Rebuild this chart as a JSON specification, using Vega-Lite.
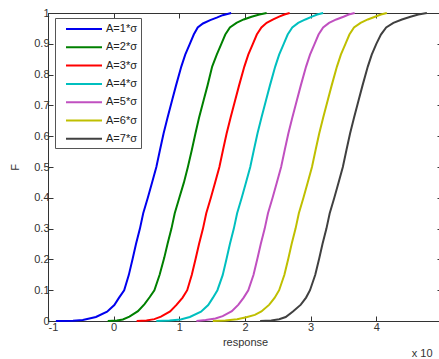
{
  "$schema": "https://vega.github.io/schema/vega-lite/v6.json",
  "width": 394,
  "height": 308,
  "autosize": "none",
  "padding": {"left": 48, "top": 13, "right": 0, "bottom": 38},
  "background": "white",
  "config": {
    "font": "Liberation Sans",
    "view": {"stroke": "#333333", "strokeWidth": 1},
    "axis": {
      "grid": false,
      "domainColor": "#333333",
      "tickColor": "#333333",
      "tickSize": -5,
      "labelFontSize": 11,
      "labelColor": "#333333",
      "labelFont": "Liberation Sans",
      "titleFont": "Liberation Sans",
      "titleFontSize": 11,
      "titleFontWeight": "normal",
      "titleColor": "#333333"
    }
  },
  "datasets": {
    "cdf": [
      {"s":"A=1*σ","x":-0.88,"F":0},{"s":"A=1*σ","x":-0.62,"F":0.001},{"s":"A=1*σ","x":-0.47,"F":0.003},{"s":"A=1*σ","x":-0.27,"F":0.013},{"s":"A=1*σ","x":-0.1,"F":0.03},{"s":"A=1*σ","x":0.01,"F":0.052},{"s":"A=1*σ","x":0.08,"F":0.075},{"s":"A=1*σ","x":0.16,"F":0.1},{"s":"A=1*σ","x":0.23,"F":0.149},{"s":"A=1*σ","x":0.29,"F":0.203},{"s":"A=1*σ","x":0.34,"F":0.25},{"s":"A=1*σ","x":0.4,"F":0.3},{"s":"A=1*σ","x":0.45,"F":0.35},{"s":"A=1*σ","x":0.52,"F":0.4},{"s":"A=1*σ","x":0.585,"F":0.45},{"s":"A=1*σ","x":0.65,"F":0.5},{"s":"A=1*σ","x":0.705,"F":0.555},{"s":"A=1*σ","x":0.76,"F":0.609},{"s":"A=1*σ","x":0.82,"F":0.66},{"s":"A=1*σ","x":0.89,"F":0.717},{"s":"A=1*σ","x":0.95,"F":0.765},{"s":"A=1*σ","x":1.03,"F":0.826},{"s":"A=1*σ","x":1.09,"F":0.865},{"s":"A=1*σ","x":1.16,"F":0.9},{"s":"A=1*σ","x":1.22,"F":0.93},{"s":"A=1*σ","x":1.28,"F":0.953},{"s":"A=1*σ","x":1.36,"F":0.966},{"s":"A=1*σ","x":1.47,"F":0.977},{"s":"A=1*σ","x":1.57,"F":0.985},{"s":"A=1*σ","x":1.66,"F":0.993},{"s":"A=1*σ","x":1.79,"F":1},
      {"s":"A=2*σ","x":-0.09,"F":0},{"s":"A=2*σ","x":0.05,"F":0.002},{"s":"A=2*σ","x":0.14,"F":0.005},{"s":"A=2*σ","x":0.24,"F":0.014},{"s":"A=2*σ","x":0.37,"F":0.032},{"s":"A=2*σ","x":0.47,"F":0.055},{"s":"A=2*σ","x":0.55,"F":0.078},{"s":"A=2*σ","x":0.62,"F":0.1},{"s":"A=2*σ","x":0.7,"F":0.15},{"s":"A=2*σ","x":0.77,"F":0.205},{"s":"A=2*σ","x":0.82,"F":0.25},{"s":"A=2*σ","x":0.88,"F":0.3},{"s":"A=2*σ","x":0.93,"F":0.35},{"s":"A=2*σ","x":1.0,"F":0.4},{"s":"A=2*σ","x":1.07,"F":0.45},{"s":"A=2*σ","x":1.13,"F":0.5},{"s":"A=2*σ","x":1.19,"F":0.555},{"s":"A=2*σ","x":1.245,"F":0.609},{"s":"A=2*σ","x":1.3,"F":0.66},{"s":"A=2*σ","x":1.37,"F":0.717},{"s":"A=2*σ","x":1.43,"F":0.765},{"s":"A=2*σ","x":1.5,"F":0.826},{"s":"A=2*σ","x":1.57,"F":0.865},{"s":"A=2*σ","x":1.64,"F":0.9},{"s":"A=2*σ","x":1.7,"F":0.93},{"s":"A=2*σ","x":1.77,"F":0.953},{"s":"A=2*σ","x":1.87,"F":0.968},{"s":"A=2*σ","x":1.98,"F":0.979},{"s":"A=2*σ","x":2.1,"F":0.988},{"s":"A=2*σ","x":2.22,"F":0.995},{"s":"A=2*σ","x":2.33,"F":1},
      {"s":"A=3*σ","x":0.35,"F":0},{"s":"A=3*σ","x":0.5,"F":0.002},{"s":"A=3*σ","x":0.62,"F":0.006},{"s":"A=3*σ","x":0.72,"F":0.014},{"s":"A=3*σ","x":0.86,"F":0.031},{"s":"A=3*σ","x":0.96,"F":0.053},{"s":"A=3*σ","x":1.05,"F":0.076},{"s":"A=3*σ","x":1.12,"F":0.1},{"s":"A=3*σ","x":1.19,"F":0.15},{"s":"A=3*σ","x":1.25,"F":0.204},{"s":"A=3*σ","x":1.3,"F":0.25},{"s":"A=3*σ","x":1.36,"F":0.3},{"s":"A=3*σ","x":1.41,"F":0.35},{"s":"A=3*σ","x":1.48,"F":0.4},{"s":"A=3*σ","x":1.545,"F":0.45},{"s":"A=3*σ","x":1.61,"F":0.5},{"s":"A=3*σ","x":1.665,"F":0.555},{"s":"A=3*σ","x":1.72,"F":0.609},{"s":"A=3*σ","x":1.78,"F":0.66},{"s":"A=3*σ","x":1.85,"F":0.717},{"s":"A=3*σ","x":1.91,"F":0.765},{"s":"A=3*σ","x":1.99,"F":0.826},{"s":"A=3*σ","x":2.05,"F":0.865},{"s":"A=3*σ","x":2.12,"F":0.9},{"s":"A=3*σ","x":2.18,"F":0.93},{"s":"A=3*σ","x":2.25,"F":0.953},{"s":"A=3*σ","x":2.33,"F":0.968},{"s":"A=3*σ","x":2.43,"F":0.979},{"s":"A=3*σ","x":2.52,"F":0.988},{"s":"A=3*σ","x":2.6,"F":0.995},{"s":"A=3*σ","x":2.68,"F":1},
      {"s":"A=4*σ","x":0.65,"F":0},{"s":"A=4*σ","x":0.85,"F":0.002},{"s":"A=4*σ","x":1.02,"F":0.005},{"s":"A=4*σ","x":1.16,"F":0.013},{"s":"A=4*σ","x":1.33,"F":0.03},{"s":"A=4*σ","x":1.44,"F":0.052},{"s":"A=4*σ","x":1.51,"F":0.075},{"s":"A=4*σ","x":1.58,"F":0.1},{"s":"A=4*σ","x":1.66,"F":0.149},{"s":"A=4*σ","x":1.72,"F":0.203},{"s":"A=4*σ","x":1.77,"F":0.25},{"s":"A=4*σ","x":1.83,"F":0.3},{"s":"A=4*σ","x":1.88,"F":0.35},{"s":"A=4*σ","x":1.95,"F":0.4},{"s":"A=4*σ","x":2.015,"F":0.45},{"s":"A=4*σ","x":2.08,"F":0.5},{"s":"A=4*σ","x":2.135,"F":0.555},{"s":"A=4*σ","x":2.19,"F":0.609},{"s":"A=4*σ","x":2.25,"F":0.66},{"s":"A=4*σ","x":2.32,"F":0.717},{"s":"A=4*σ","x":2.38,"F":0.765},{"s":"A=4*σ","x":2.46,"F":0.826},{"s":"A=4*σ","x":2.52,"F":0.865},{"s":"A=4*σ","x":2.59,"F":0.9},{"s":"A=4*σ","x":2.65,"F":0.93},{"s":"A=4*σ","x":2.72,"F":0.953},{"s":"A=4*σ","x":2.81,"F":0.968},{"s":"A=4*σ","x":2.92,"F":0.979},{"s":"A=4*σ","x":3.02,"F":0.988},{"s":"A=4*σ","x":3.1,"F":0.995},{"s":"A=4*σ","x":3.19,"F":1},
      {"s":"A=5*σ","x":1.26,"F":0},{"s":"A=5*σ","x":1.4,"F":0.003},{"s":"A=5*σ","x":1.55,"F":0.008},{"s":"A=5*σ","x":1.66,"F":0.016},{"s":"A=5*σ","x":1.8,"F":0.032},{"s":"A=5*σ","x":1.9,"F":0.053},{"s":"A=5*σ","x":1.98,"F":0.076},{"s":"A=5*σ","x":2.05,"F":0.1},{"s":"A=5*σ","x":2.13,"F":0.15},{"s":"A=5*σ","x":2.19,"F":0.204},{"s":"A=5*σ","x":2.24,"F":0.25},{"s":"A=5*σ","x":2.3,"F":0.3},{"s":"A=5*σ","x":2.35,"F":0.35},{"s":"A=5*σ","x":2.42,"F":0.4},{"s":"A=5*σ","x":2.485,"F":0.45},{"s":"A=5*σ","x":2.55,"F":0.5},{"s":"A=5*σ","x":2.605,"F":0.555},{"s":"A=5*σ","x":2.66,"F":0.609},{"s":"A=5*σ","x":2.72,"F":0.66},{"s":"A=5*σ","x":2.79,"F":0.717},{"s":"A=5*σ","x":2.85,"F":0.765},{"s":"A=5*σ","x":2.93,"F":0.826},{"s":"A=5*σ","x":2.99,"F":0.865},{"s":"A=5*σ","x":3.06,"F":0.9},{"s":"A=5*σ","x":3.12,"F":0.93},{"s":"A=5*σ","x":3.19,"F":0.953},{"s":"A=5*σ","x":3.28,"F":0.968},{"s":"A=5*σ","x":3.39,"F":0.979},{"s":"A=5*σ","x":3.5,"F":0.988},{"s":"A=5*σ","x":3.58,"F":0.995},{"s":"A=5*σ","x":3.67,"F":1},
      {"s":"A=6*σ","x":1.51,"F":0},{"s":"A=6*σ","x":1.7,"F":0.002},{"s":"A=6*σ","x":1.88,"F":0.006},{"s":"A=6*σ","x":2.02,"F":0.012},{"s":"A=6*σ","x":2.15,"F":0.02},{"s":"A=6*σ","x":2.25,"F":0.031},{"s":"A=6*σ","x":2.37,"F":0.053},{"s":"A=6*σ","x":2.45,"F":0.075},{"s":"A=6*σ","x":2.52,"F":0.1},{"s":"A=6*σ","x":2.6,"F":0.15},{"s":"A=6*σ","x":2.66,"F":0.203},{"s":"A=6*σ","x":2.71,"F":0.25},{"s":"A=6*σ","x":2.77,"F":0.3},{"s":"A=6*σ","x":2.82,"F":0.35},{"s":"A=6*σ","x":2.89,"F":0.4},{"s":"A=6*σ","x":2.955,"F":0.45},{"s":"A=6*σ","x":3.02,"F":0.5},{"s":"A=6*σ","x":3.075,"F":0.555},{"s":"A=6*σ","x":3.13,"F":0.609},{"s":"A=6*σ","x":3.19,"F":0.66},{"s":"A=6*σ","x":3.26,"F":0.717},{"s":"A=6*σ","x":3.32,"F":0.765},{"s":"A=6*σ","x":3.4,"F":0.826},{"s":"A=6*σ","x":3.46,"F":0.865},{"s":"A=6*σ","x":3.53,"F":0.9},{"s":"A=6*σ","x":3.59,"F":0.93},{"s":"A=6*σ","x":3.66,"F":0.953},{"s":"A=6*σ","x":3.76,"F":0.968},{"s":"A=6*σ","x":3.87,"F":0.979},{"s":"A=6*σ","x":3.98,"F":0.988},{"s":"A=6*σ","x":4.07,"F":0.995},{"s":"A=6*σ","x":4.16,"F":1},
      {"s":"A=7*σ","x":2.23,"F":0},{"s":"A=7*σ","x":2.4,"F":0.002},{"s":"A=7*σ","x":2.52,"F":0.006},{"s":"A=7*σ","x":2.62,"F":0.013},{"s":"A=7*σ","x":2.73,"F":0.031},{"s":"A=7*σ","x":2.85,"F":0.053},{"s":"A=7*σ","x":2.93,"F":0.076},{"s":"A=7*σ","x":2.99,"F":0.1},{"s":"A=7*σ","x":3.07,"F":0.15},{"s":"A=7*σ","x":3.13,"F":0.203},{"s":"A=7*σ","x":3.18,"F":0.25},{"s":"A=7*σ","x":3.24,"F":0.3},{"s":"A=7*σ","x":3.29,"F":0.35},{"s":"A=7*σ","x":3.36,"F":0.4},{"s":"A=7*σ","x":3.425,"F":0.45},{"s":"A=7*σ","x":3.49,"F":0.5},{"s":"A=7*σ","x":3.545,"F":0.555},{"s":"A=7*σ","x":3.6,"F":0.609},{"s":"A=7*σ","x":3.66,"F":0.66},{"s":"A=7*σ","x":3.73,"F":0.717},{"s":"A=7*σ","x":3.79,"F":0.765},{"s":"A=7*σ","x":3.87,"F":0.826},{"s":"A=7*σ","x":3.93,"F":0.865},{"s":"A=7*σ","x":4.0,"F":0.9},{"s":"A=7*σ","x":4.07,"F":0.93},{"s":"A=7*σ","x":4.15,"F":0.953},{"s":"A=7*σ","x":4.26,"F":0.968},{"s":"A=7*σ","x":4.39,"F":0.979},{"s":"A=7*σ","x":4.52,"F":0.988},{"s":"A=7*σ","x":4.64,"F":0.995},{"s":"A=7*σ","x":4.77,"F":1}
    ],
    "note": [{"x": 4.54, "F": -0.107, "t": "x 10"}]
  },
  "layer": [
    {
      "data": {"name": "cdf"},
      "mark": {"type": "line", "interpolate": "linear"},
      "encoding": {
        "x": {"field": "x", "type": "quantitative", "scale": {"domain": [-1, 5], "nice": false, "zero": false},
              "axis": {"orient": "bottom", "values": [-1, 0, 1, 2, 3, 4], "labelExpr": "replace(datum.label, '−', '-')", "title": "response", "labelPadding": 5, "titlePadding": 4}},
        "y": {"field": "F", "type": "quantitative", "scale": {"domain": [0, 1], "nice": false},
              "axis": {"orient": "left", "values": [0, 0.1, 0.2, 0.3, 0.4, 0.5, 0.6, 0.7, 0.8, 0.9, 1], "format": "~g", "title": "F", "labelPadding": 4, "titlePadding": 13}},
        "color": {"field": "s", "type": "nominal",
                  "scale": {"domain": ["A=1*σ","A=2*σ","A=3*σ","A=4*σ","A=5*σ","A=6*σ","A=7*σ"],
                            "range": ["#0000ee","#008000","#ff0000","#00bfbf","#c050c0","#bfbf00","#404040"]},
                  "legend": {"orient": "none", "legendX": 7, "legendY": 5, "title": null,
                             "fillColor": "white", "strokeColor": "#555555", "padding": 4,
                             "symbolType": "M-3,0H3", "symbolSize": 144, "symbolStrokeWidth": 2,
                             "symbolOffset": 18, "labelOffset": 15, "rowPadding": 6.3,
                             "labelFontSize": 11, "labelColor": "#222222", "labelFont": "Liberation Sans"}},
        "strokeWidth": {"field": "s", "type": "nominal",
                        "scale": {"domain": ["A=1*σ","A=2*σ","A=3*σ","A=4*σ","A=5*σ","A=6*σ","A=7*σ"],
                                  "range": [2, 2, 2, 2, 1, 2, 2]}, "legend": null}
      }
    },
    {
      "data": {"name": "cdf"},
      "mark": {"type": "point", "opacity": 0},
      "encoding": {
        "x": {"field": "x", "type": "quantitative", "scale": {"domain": [-1, 5], "nice": false, "zero": false},
              "axis": {"orient": "top", "values": [-1, 0, 1, 2, 3, 4, 5], "labels": false, "title": null, "domain": false}},
        "y": {"field": "F", "type": "quantitative", "scale": {"domain": [0, 1], "nice": false},
              "axis": {"orient": "right", "values": [0, 0.1, 0.2, 0.3, 0.4, 0.5, 0.6, 0.7, 0.8, 0.9, 1], "labels": false, "title": null, "domain": false}}
      }
    },
    {
      "data": {"name": "note"},
      "mark": {"type": "text", "align": "left", "baseline": "middle", "fontSize": 11, "color": "#333333", "font": "Liberation Sans"},
      "encoding": {
        "x": {"field": "x", "type": "quantitative", "scale": {"domain": [-1, 5], "nice": false, "zero": false}, "axis": null},
        "y": {"field": "F", "type": "quantitative", "scale": {"domain": [0, 1], "nice": false}, "axis": null},
        "text": {"field": "t"}
      }
    }
  ],
  "resolve": {"axis": {"x": "independent", "y": "independent"}}
}
